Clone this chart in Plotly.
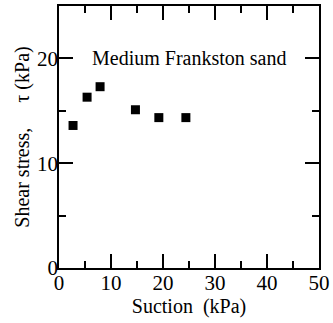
import plotly.graph_objects as go

suction = [2.7, 5.4, 7.9, 14.7, 19.2, 24.4]
shear = [13.6, 16.3, 17.3, 15.1, 14.35, 14.35]

x_limits = [0, 50]
y_limits = [0, 25]
x_labels = [0, 10, 20, 30, 40, 50]
y_labels = [0, 10, 20]
x_major = [10, 20, 30, 40]
x_minor = [5, 15, 25, 35, 45]
y_major = [10, 20]
y_minor = [5, 15]

font_family = "Liberation Serif, Times New Roman, serif"

fig = go.Figure()
fig.add_trace(go.Scatter(
    x=suction, y=shear, mode="markers",
    marker=dict(symbol="square", size=9, color="black"),
    showlegend=False,
))
for ax in ("2", "3"):
    fig.add_trace(go.Scatter(
        x=suction, y=shear, mode="markers", xaxis="x" + ax, yaxis="y" + ax,
        marker=dict(opacity=0), showlegend=False, hoverinfo="skip",
    ))

xr = dict(autorange=True, autorangeoptions=dict(minallowed=x_limits[0], maxallowed=x_limits[1]))
yr = dict(autorange=True, autorangeoptions=dict(minallowed=y_limits[0], maxallowed=y_limits[1]))
plain = dict(showgrid=False, zeroline=False)
tick_style = dict(ticks="inside", tickwidth=2, tickcolor="black", mirror="ticks",
                  showticklabels=False, tickmode="array")
label_style = dict(ticks="", showline=False, tickmode="array",
                   tickfont=dict(family=font_family, size=21, color="black"))

fig.update_layout(
    template="none",
    width=333, height=323,
    margin=dict(l=59, r=14, t=6, b=55),
    plot_bgcolor="white", paper_bgcolor="white",
    # frame + major ticks
    xaxis=dict(**xr, **plain, **tick_style, showline=True, linecolor="black", linewidth=2,
               ticklen=14, tickvals=x_major),
    yaxis=dict(**yr, **plain, **tick_style, showline=True, linecolor="black", linewidth=2,
               ticklen=14, tickvals=y_major),
    # minor ticks
    xaxis2=dict(**xr, **plain, **tick_style, showline=False, ticklen=7, tickvals=x_minor,
                overlaying="x", anchor="y", side="bottom"),
    yaxis2=dict(**yr, **plain, **tick_style, showline=False, ticklen=7, tickvals=y_minor,
                overlaying="y", anchor="x", side="left"),
    # tick labels and titles
    xaxis3=dict(**xr, **plain, **label_style, tickvals=x_labels, ticktext=[str(v) for v in x_labels],
                overlaying="x", anchor="y", side="bottom",
                title=dict(text="Suction  (kPa)", font=dict(family=font_family, size=20, color="black"), standoff=4)),
    yaxis3=dict(**yr, **plain, **label_style, tickvals=y_labels, ticktext=[str(v) for v in y_labels],
                overlaying="y", anchor="x", side="left",
                title=dict(text="Shear stress,     τ (kPa)", font=dict(family=font_family, size=20, color="black"), standoff=2)),
)

fig.add_annotation(
    x=0.5, y=0.8, xref="paper", yref="paper", text="Medium Frankston sand",
    showarrow=False, font=dict(family=font_family, size=20, color="black"),
    xanchor="center", yanchor="middle",
)

fig.write_html("out.html")
